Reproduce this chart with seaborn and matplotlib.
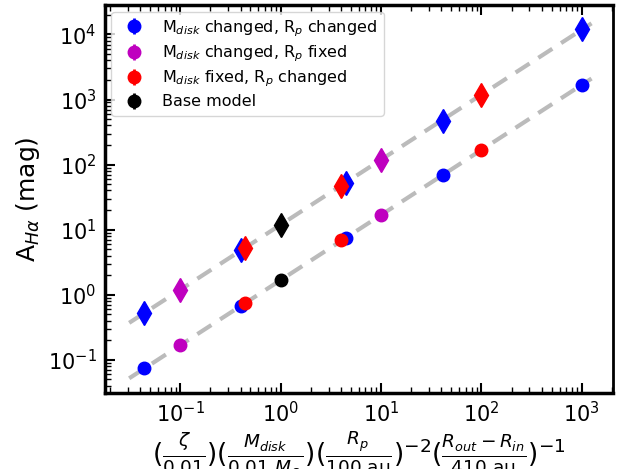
import numpy as np
import pandas as pd
import matplotlib
matplotlib.use("Agg")
import matplotlib.pyplot as plt
import seaborn as sns

# ---- data ----
blue_x = [0.044, 0.40, 4.5, 41, 1000]
blue_circ = [0.074, 0.68, 7.5, 68, 1700]
blue_diam = [0.53, 4.8, 53, 475, 12000]

mag_x = [0.1, 10]
mag_circ = [0.17, 17]
mag_diam = [1.19, 118]

red_x = [0.445, 3.95, 100]
red_circ = [0.74, 6.9, 168]
red_diam = [5.3, 47, 1170]

base_x = [1.0]
base_circ = [1.68]
base_diam = [11.9]

fit_x = [0.031, 1250]
fit_low = [0.052, 2100]
fit_high = [0.37, 14800]

labels = [r"M$_{disk}$ changed, R$_p$ changed",
          r"M$_{disk}$ changed, R$_p$ fixed",
          r"M$_{disk}$ fixed, R$_p$ changed",
          "Base model"]
colors = ["#0000ff", "#bf00bf", "#ff0000", "#000000"]

sns.set_theme(style="ticks", rc={"axes.edgecolor": "black",
                                 "text.color": "black",
                                 "axes.labelcolor": "black",
                                 "xtick.color": "black",
                                 "ytick.color": "black"})
plt.rcParams["font.family"] = ["DejaVu Sans"]
plt.rcParams["mathtext.fontset"] = "dejavusans"

fig = plt.figure(figsize=(6.21, 4.69), dpi=100)
ax = fig.add_axes([0.169, 0.162, 0.818, 0.827])

df = pd.DataFrame({"x": fit_x * 2, "y": fit_low + fit_high,
                   "line": ["low"] * 2 + ["high"] * 2})
sns.lineplot(data=df, x="x", y="y", units="line", estimator=None,
             color="#bbbbbb", lw=3, dashes=False, ax=ax, zorder=1,
             linestyle=(0, (4, 2.5)))

groups = [(blue_x, blue_circ, blue_diam),
          (mag_x, mag_circ, mag_diam),
          (red_x, red_circ, red_diam),
          (base_x, base_circ, base_diam)]
for (gx, gc, gd), lab, col in zip(groups, labels, colors):
    ax.errorbar(gx, gc, yerr=[0.0] * len(gx), fmt="o", ms=9, color=col,
                elinewidth=2, label=lab, zorder=3)
    ax.errorbar(gx, gd, yerr=[0.0] * len(gx), fmt="d", ms=12, color=col,
                elinewidth=2, zorder=3)

ax.set_xscale("log")
ax.set_yscale("log")
ax.set_xlim(10 ** -1.75, 10 ** 3.31)
ax.set_ylim(10 ** -1.51, 10 ** 4.45)

for s in ["left", "bottom", "top"]:
    ax.spines[s].set_linewidth(2.5)
ax.spines["right"].set_linewidth(2)
ax.tick_params(which="major", direction="in", length=7, width=1.5,
               top=True, right=False, labelsize=15, pad=6)
ax.tick_params(which="minor", direction="in", length=4, width=1,
               top=True, right=False)

ax.set_ylabel(r"A$_{H\alpha}$ (mag)", fontsize=18)
ax.set_xlabel(r"$(\frac{\zeta}{0.01})(\frac{M_{disk}}{0.01\ M_{\odot}})"
              r"(\frac{R_p}{100\ \mathrm{au}})^{-2}"
              r"(\frac{R_{out}-R_{in}}{410\ \mathrm{au}})^{-1}$",
              fontsize=19, labelpad=2)

ax.legend(loc="upper left", fontsize=11.5, frameon=True, borderaxespad=0.4,
          handletextpad=0.8, labelspacing=0.3)

fig.savefig("out.png", dpi=100)
